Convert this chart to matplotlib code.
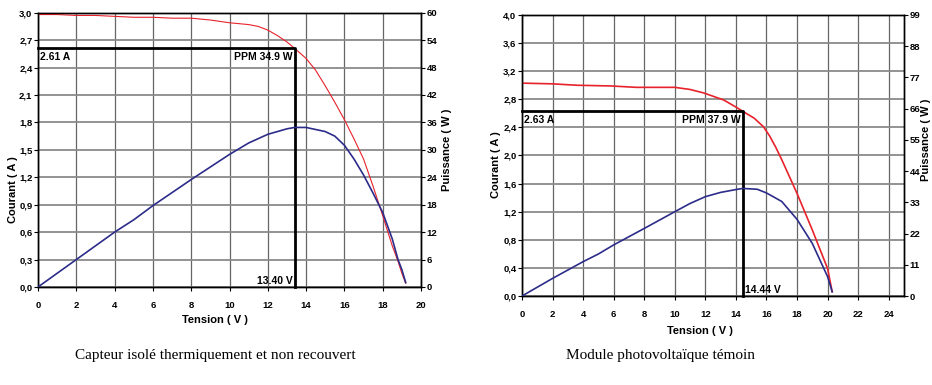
import numpy as np
import matplotlib.pyplot as plt
from matplotlib.ticker import FuncFormatter, MultipleLocator

# left chart : insulated, uncovered collector
volt_a = [0, 1, 2, 3, 4, 5, 6, 7, 8, 9, 10, 11, 11.5, 12, 12.5, 13.0, 13.4, 14.0, 14.5,
          15.0, 15.5, 16.0, 16.5, 17.0, 17.5, 18.0, 18.5, 18.8, 19.0, 19.2]
curr_a = [2.98, 2.98, 2.97, 2.97, 2.96, 2.95, 2.95, 2.94, 2.94, 2.92, 2.89, 2.87, 2.85,
          2.81, 2.75, 2.68, 2.61, 2.50, 2.37, 2.20, 2.02, 1.83, 1.62, 1.40, 1.10, 0.78,
          0.45, 0.28, 0.15, 0.04]
pvolt_a = [0, 2, 4, 5, 6, 8, 10, 11, 12, 13, 13.4, 14, 15, 15.5, 16, 16.5, 17, 17.5,
           18, 18.5, 18.8, 19.0, 19.2]
pow_a = [0, 6.0, 12.0, 14.7, 17.8, 23.5, 29.0, 31.5, 33.4, 34.6, 34.9, 34.9, 34.0, 33.0,
         31.0, 28.0, 24.5, 20.5, 16.3, 10.5, 6.0, 3.8, 1.0]

# right chart : reference PV module
volt_b = [0, 2, 3.6, 5.8, 7.5, 10.0, 11.0, 11.9, 13.2, 14.0, 14.44, 15.2, 15.8, 16.2,
          16.6, 17.0, 18.0, 19.0, 20.0, 20.3]
curr_b = [3.03, 3.02, 3.00, 2.99, 2.97, 2.97, 2.94, 2.89, 2.79, 2.69, 2.63, 2.53, 2.41,
          2.28, 2.12, 1.94, 1.46, 0.94, 0.39, 0.06]
pvolt_b = [0, 2, 4, 5, 6, 8, 10, 11, 12, 13, 14, 14.44, 15.4, 16, 17, 18, 19, 20, 20.3]
pow_b = [0, 6.2, 12.1, 14.8, 18.0, 23.8, 29.7, 32.6, 35.0, 36.5, 37.5, 37.9, 37.6, 36.3,
         33.3, 27.0, 18.5, 6.8, 1.5]

mpp_a = (13.40, 2.61, 34.9)
mpp_b = (14.44, 2.63, 37.9)

captions = ['Capteur isolé thermiquement et non recouvert', 'Module photovoltaïque témoin']

narrow = ['Liberation Sans Narrow', 'Liberation Sans', 'DejaVu Sans']
sans = ['Liberation Sans', 'DejaVu Sans']

comma = FuncFormatter(lambda v, p: ('%.1f' % v).replace('.', ','))
integ = FuncFormatter(lambda v, p: '%d' % round(v))


def draw(rect, volt, curr, pvolt, pw, mpp, xmax, ymax, ystep, pmax, pstep, xticks_max,
         red_lw, lab_pos, volt_left):
    ax = fig.add_axes(rect)
    ax2 = ax.twinx()
    ax.set_xlim(0, xmax)
    ax.set_ylim(0, ymax)
    ax2.set_ylim(0, pmax)
    ax.set_xticks(np.arange(0, xticks_max + 0.1, 2))
    ax.yaxis.set_major_locator(MultipleLocator(ystep))
    ax2.yaxis.set_major_locator(MultipleLocator(pstep))
    ax.yaxis.set_major_formatter(comma)
    ax.xaxis.set_major_formatter(integ)
    ax2.yaxis.set_major_formatter(integ)

    ax.grid(True, axis='x', color='#666666', lw=0.9)
    ax.grid(True, axis='y', color='#8a8a8a', lw=1.3)
    ax.set_axisbelow(True)

    for a in (ax, ax2):
        for s in a.spines.values():
            s.set_color('black')
            s.set_linewidth(1.0)
        a.tick_params(length=3, width=0.8, pad=1, labelsize=6.8)
        for lab in a.get_xticklabels() + a.get_yticklabels():
            lab.set_family(narrow)
            lab.set_fontweight('bold')
    ax.tick_params(axis='x', pad=7)

    ax.plot(volt, curr, color='#e8222b', lw=red_lw, zorder=3)
    ax2.plot(pvolt, pw, color='#2c2c8a', lw=1.2, zorder=3)

    v, i, p = mpp
    ax.plot([0, v, v], [i, i, 0], color='black', lw=2.0, zorder=4, clip_on=False)
    tk = dict(fontsize=7.5, fontweight='bold', family=sans, zorder=5)
    ax.text(xmax * 0.005, i - ymax * 0.012, ('%.2f A' % i), ha='left', va='top', **tk)
    ax.text(v - xmax * 0.005, i - ymax * 0.012, 'PPM %.1f W' % p, ha='right', va='top', **tk)
    if volt_left:
        ax.text(v - xmax * 0.006, ymax * 0.005, '%.2f V' % v, ha='right', va='bottom', **tk)
    else:
        ax.text(v + xmax * 0.006, ymax * 0.005, '%.2f V' % v, ha='left', va='bottom', **tk)

    lk = dict(fontsize=8, fontweight='bold', family=sans)
    ax.set_ylabel('Courant ( A )', **lk)
    ax2.set_ylabel('Puissance ( W )', **lk)
    ax.set_xlabel('Tension ( V )', **lk)
    ax.yaxis.set_label_coords(*lab_pos[0])
    ax2.yaxis.set_label_coords(*lab_pos[1])
    ax.xaxis.set_label_coords(*lab_pos[2])
    ax.xaxis.label.set_va('center')
    ax.yaxis.label.set_va('center')
    ax2.yaxis.label.set_va('center')
    return ax


W, H = 932, 385
fig = plt.figure(figsize=(W / 100, H / 100), dpi=100)


def px(l, t, r, b):
    return [l / W, 1 - b / H, (r - l) / W, (b - t) / H]


draw(px(38, 12.7, 421, 287), volt_a, curr_a, pvolt_a, pow_a, mpp_a, 20, 3.0, 0.3, 60, 6,
     20, 0.8, [(-0.066, 0.354), (1.068, 0.5), (0.462, -0.12)], True)
draw(px(522, 15, 904, 296), volt_b, curr_b, pvolt_b, pow_b, mpp_b, 25, 4.0, 0.4, 99, 11,
     24, 1.2, [(-0.068, 0.466), (1.058, 0.555), (0.466, -0.125)], False)

fig.text(215 / W, 1 - 356 / H, captions[0], ha='center', va='center', fontsize=11,
         family=['Liberation Serif', 'DejaVu Serif'])
fig.text(660 / W, 1 - 356 / H, captions[1], ha='center', va='center', fontsize=11,
         family=['Liberation Serif', 'DejaVu Serif'])

fig.savefig('out.png', dpi=100)
